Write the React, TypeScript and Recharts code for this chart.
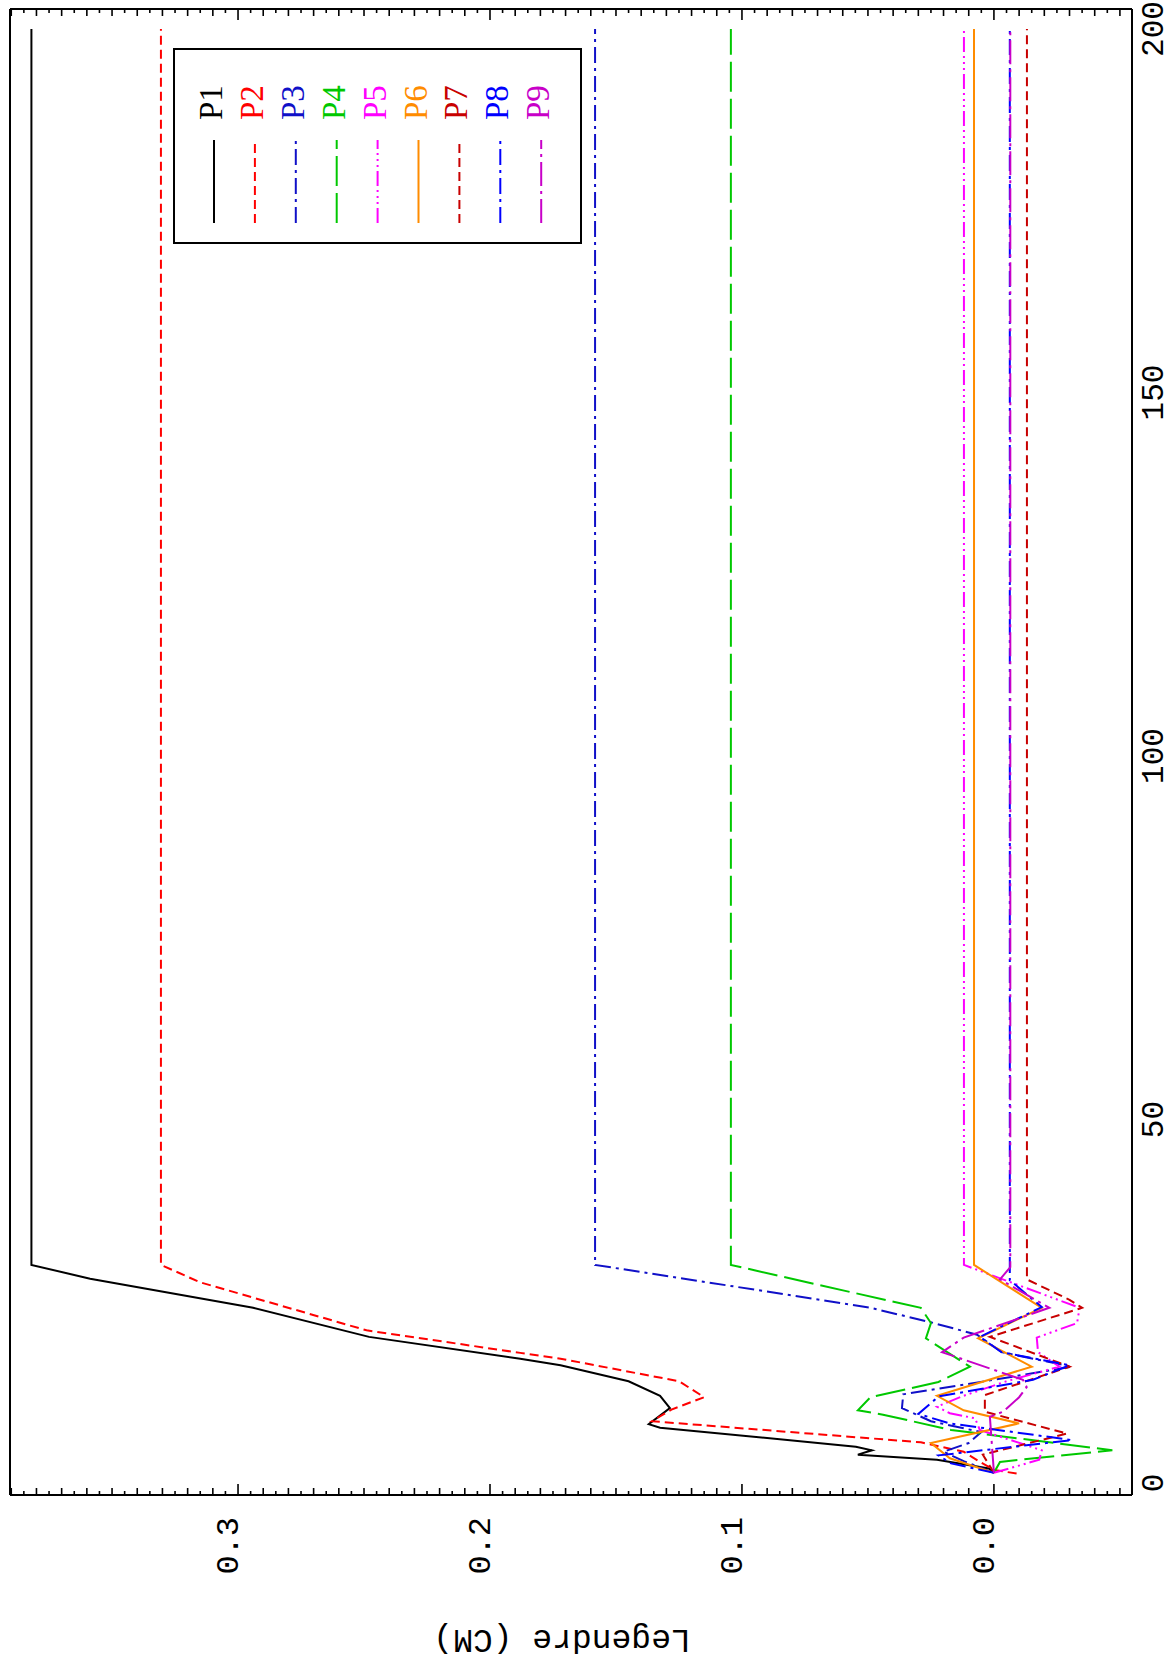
// Legendre (CM) vs step — rotated page, drawn landscape then turned -90deg.
import { LineChart, Line, XAxis, YAxis } from 'recharts'

// tick values
const xMajor = [0, 50, 100, 150, 200]
const yMajor = [0, 0.1, 0.2, 0.3]
const xMinor = Array.from({ length: 204 }, (_, i) => i - 1)
const yMinor = Array.from({ length: 90 }, (_, i) => Math.round((i * 0.005 - 0.05) * 1000) / 1000)

// series: [step, value]
const p1 = [[1.4, 0], [2, 0.002], [3.2, 0.0226], [3.9, 0.054], [4.5, 0.0484], [5, 0.0548], [7.6, 0.1325], [8.1, 0.137], [10.3, 0.1286], [12, 0.1325], [14, 0.145], [16.2, 0.172], [17.1, 0.188], [20.1, 0.248], [24.1, 0.294], [28.1, 0.3587], [30, 0.382], [200, 0.382]]
const p2 = [[1.3, -0.009], [1.8, 0], [3, 0.006], [4.3, 0.012], [5.6, 0.029], [8.5, 0.1357], [10.1, 0.128], [11.8, 0.115], [14, 0.125], [17.1, 0.172], [17.9, 0.188], [21, 0.249], [27.6, 0.315], [30, 0.3306], [200, 0.3306]]
const p3 = [[1.4, 0], [3, 0.012], [4.3, 0.02], [5.5, 0.01], [7, 0.005], [8.5, 0.025], [10.3, 0.0365], [12.2, 0.036], [14.2, 0], [16, -0.031], [18, -0.003], [20.4, 0.0067], [22.1, 0.025], [24.1, 0.049], [25.2, 0.069], [30, 0.1583], [200, 0.1583]]
const p4 = [[1.4, 0], [2.9, -0.0024], [3.2, -0.01], [4.5, -0.047], [7.3, 0.017], [9.4, 0.044], [10, 0.054], [11.8, 0.049], [13.9, 0.022], [16, 0.0095], [19.9, 0.027], [22, 0.025], [24.1, 0.029], [27.2, 0.069], [30, 0.1044], [200, 0.1044]]
const p5 = [[1.4, 0], [3.2, -0.018], [4.5, -0.019], [7.3, 0.0056], [8.9, 0.0075], [9.6, 0.0175], [10.5, 0.0226], [12, 0.012], [14, -0.005], [16, -0.026], [18, -0.0175], [20, -0.017], [22, -0.033], [24.1, -0.034], [30, 0.0119], [200, 0.0119]]
const p6 = [[1.4, 0], [3.4, 0.0175], [5.5, 0.025], [8.2, -0.01], [10, 0.012], [12, 0.0226], [16, -0.015], [19.9, 0.0063], [24.1, -0.019], [30, 0.0079], [200, 0.0079]]
const p7 = [[1.4, 0], [3.9, 0.0044], [6.8, -0.029], [9.8, 0.0036], [12.1, 0.0036], [16, -0.03], [20.1, 0.0016], [24.1, -0.035], [25.2, -0.03], [28, -0.0131], [200, -0.0131]]
const p8 = [[1.4, 0], [2.7, 0.017], [3.8, 0.022], [5.9, -0.031], [8.2, 0.0175], [9.5, 0.03], [11.9, 0.022], [14.2, -0.0155], [16.2, -0.03], [18, -0.003], [20.1, 0.0056], [24.2, -0.019], [27.9, -0.0063], [200, -0.0063]]
const p9 = [[1.4, 0], [9.1, 0.0016], [9.8, -0.0036], [11.8, -0.01], [13.2, -0.013], [14.2, -0.0115], [18, 0.0206], [20, 0.012], [24.1, -0.022], [28, -0.0024], [29.7, -0.0065], [200, -0.0065]]

const names = ['P1', 'P2', 'P3', 'P4', 'P5', 'P6', 'P7', 'P8', 'P9']
const values = [p1, p2, p3, p4, p5, p6, p7, p8, p9]
const colors = ['#000000', '#FF0000', '#1010C8', '#00C800', '#FF00FF', '#FF8C00', '#C80000', '#0000FF', '#C800C8']
const dashes = ['', '9 5', '16 5 3 5', '30 7', '15 4 2 4 2 4 2 4', '', '9 5', '16 5 3 5', '24 5 3 5']

const W = 1669
const H = 1174
const MONO = '"Liberation Mono", "DejaVu Sans Mono", monospace'
const SERIF = '"Liberation Serif", "DejaVu Serif", serif'

const XLabel = ({ x, y, payload }: any) => (
  <text x={x} y={y + 31} textAnchor="middle" fontFamily={MONO} fontSize={31} fill="#000">
    {payload.value}
  </text>
)

const YLabel = ({ x, y, payload }: any) => (
  <text x={x - 22} y={y} textAnchor="end" fontFamily={MONO} fontSize={32} fill="#000">
    {Number(payload.value).toFixed(1)}
  </text>
)

const YTitle = ({ viewBox }: any) => {
  const cx = viewBox.x + 39
  const cy = viewBox.y + viewBox.height / 2 - 9
  return (
    <text x={cx} y={cy} transform={`rotate(-90, ${cx}, ${cy})`} textAnchor="middle"
      fontFamily={MONO} fontSize={33} fill="#000">
      Legendre (CM)
    </text>
  )
}

// inward frame ticks: long at labelled values, medium, short
const xLen = (v: number) => (v % 50 === 0 ? 11 : v % 5 === 0 ? 7 : 4)
const yLen = (v: number) => {
  const m = Math.round(v * 1000)
  return m % 100 === 0 ? 11 : m % 10 === 0 ? 7 : 4
}
const TickMark = ({ x, y, payload, side }: any) => {
  const v = payload.value
  const len = side === 'top' || side === 'bottom' ? xLen(v) : yLen(v)
  const d = side === 'bottom' ? [0, -len] : side === 'top' ? [0, len] : side === 'left' ? [len, 0] : [-len, 0]
  return <line x1={x} y1={y} x2={x + d[0]} y2={y + d[1]} stroke="#000" strokeWidth={1.6} />
}

const xDomain = [-1.65, 202.75]
const yDomain = [-0.0548, 0.3905]
const frame = { stroke: '#000', strokeWidth: 2 }

function LegendBox() {
  return (
    <svg width={196} height={409} style={{ position: 'absolute', left: 1425, top: 173 }}>
      <rect x={1} y={1} width={194} height={407} fill="#fff" stroke="#000" strokeWidth={2} />
      {names.map((n, i) => {
        const cy = 41 + i * 40.9
        return (
          <g key={n}>
            <line x1={21} x2={104} y1={cy} y2={cy} stroke={colors[i]} strokeWidth={2}
              strokeDasharray={dashes[i] || undefined} />
            <text x={124} y={cy + 8} fontFamily={SERIF} fontSize={33} fill={colors[i]}>{n}</text>
          </g>
        )
      })}
    </svg>
  )
}

export default function App() {
  return (
    <div style={{ position: 'absolute', left: 0, top: 0, width: 1174, height: 1669, overflow: 'hidden', background: '#fff' }}>
      <div style={{ position: 'absolute', left: 0, top: 0, width: W, height: H, transformOrigin: '0 0', transform: `translateY(${W}px) rotate(-90deg)` }}>
        <LineChart width={W} height={H} margin={{ top: 10, right: 9, left: 0, bottom: 0 }}>
          <XAxis xAxisId="x" dataKey="x" type="number" domain={xDomain} allowDataOverflow
            ticks={xMajor} height={42} tickLine={false} tickSize={0} tickMargin={0}
            axisLine={frame} tick={<XLabel />} />
          <YAxis yAxisId="y" type="number" domain={yDomain} allowDataOverflow
            ticks={yMajor} width={174} tickLine={false} tickSize={0} tickMargin={0}
            axisLine={frame} tick={<YLabel />} label={<YTitle />} />
          <XAxis xAxisId="xb" orientation="bottom" mirror height={1} type="number" domain={xDomain}
            allowDataOverflow ticks={xMinor} interval={0} tickLine={false} tickSize={0} tickMargin={0}
            axisLine={false} tick={<TickMark side="bottom" />} />
          <XAxis xAxisId="xt" orientation="top" mirror height={1} type="number" domain={xDomain}
            allowDataOverflow ticks={xMinor} interval={0} tickLine={false} tickSize={0} tickMargin={0}
            axisLine={frame} tick={<TickMark side="top" />} />
          <YAxis yAxisId="yl" orientation="left" mirror width={1} type="number" domain={yDomain}
            allowDataOverflow ticks={yMinor} interval={0} tickLine={false} tickSize={0} tickMargin={0}
            axisLine={false} tick={<TickMark side="left" />} />
          <YAxis yAxisId="yr" orientation="right" mirror width={1} type="number" domain={yDomain}
            allowDataOverflow ticks={yMinor} interval={0} tickLine={false} tickSize={0} tickMargin={0}
            axisLine={frame} tick={<TickMark side="right" />} />
          {values.map((pts, i) => (
            <Line key={names[i]} xAxisId="x" yAxisId="y" data={pts.map(([x, v]) => ({ x, v }))}
              dataKey="v" name={names[i]} stroke={colors[i]} strokeWidth={2}
              strokeDasharray={dashes[i] || undefined} dot={false} isAnimationActive={false} />
          ))}
        </LineChart>
        <LegendBox />
      </div>
    </div>
  )
}
